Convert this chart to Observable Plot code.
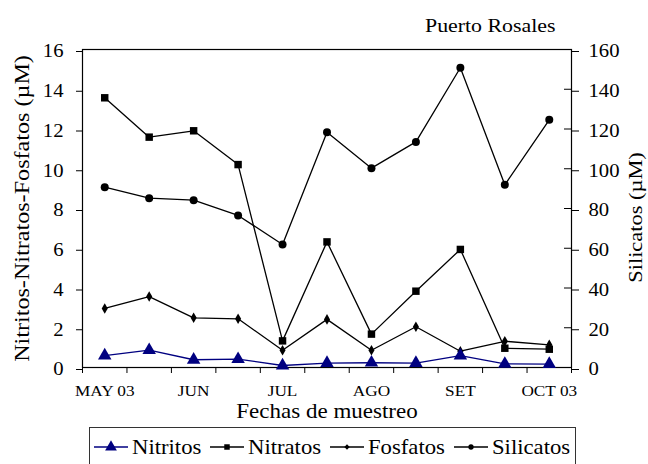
<!DOCTYPE html>
<html><head><meta charset="utf-8">
<script src="https://cdn.jsdelivr.net/npm/d3@7"></script>
<script src="https://cdn.jsdelivr.net/npm/@observablehq/plot@0.6"></script>
<style>
body{margin:0;background:#fff;}
#wrap{position:relative;width:648px;height:464px;overflow:hidden;font-family:"Liberation Serif","DejaVu Serif",serif;background:#fff;}
#title{position:absolute;left:425px;top:16px;font-size:19px;line-height:1;color:#000;transform:scaleX(1.15);transform-origin:left center;white-space:nowrap;}
#chart{position:absolute;left:0;top:0;}
#legend{position:absolute;left:89px;top:427px;width:487px;height:40px;border:1px solid #333;box-sizing:border-box;display:flex;align-items:center;justify-content:space-between;padding:0 6px 0 4px;font-size:21px;color:#000;}
.item{display:flex;align-items:center;}
.item svg{margin-right:4px;}
.item span{display:inline-block;transform:scaleX(1.08);transform-origin:left center;margin-right:5px;}
svg text{font-family:"Liberation Serif","DejaVu Serif",serif;}
</style>
</head><body>
<div id="wrap">
  <div id="chart"></div>
  <div id="title">Puerto Rosales</div>
  <div id="legend"></div>
</div>
<script>
const months = ["MAY 03","","JUN","","JUL","","AGO","","SET","","OCT 03"];
const nitritos = [0.60,0.87,0.39,0.42,0.10,0.22,0.24,0.22,0.60,0.18,0.17];
const nitratos = [13.57,11.59,11.91,10.21,1.34,6.32,1.68,3.84,5.94,0.97,0.92];
const fosfatos = [2.97,3.57,2.50,2.45,0.87,2.42,0.87,2.05,0.82,1.32,1.14];
const silicatos = [90.7,85.2,84.2,76.5,61.9,118.4,100.3,113.5,150.8,91.9,124.6];
const leftTicks = [0,2,4,6,8,10,12,14,16];
const rightTicks = [0,20,40,60,80,100,120,140,160];
const seriesNames = ["Nitritos","Nitratos","Fosfatos","Silicatos"];

const rows = months.map((m, i) => ({i, m, nitritos: nitritos[i], nitratos: nitratos[i], fosfatos: fosfatos[i], silicatos: silicatos[i]}));
const bounds = d3.range(months.length + 1).map(i => i - 0.5);
const NAVY = "#000080";
const FONT = "Liberation Serif, DejaVu Serif, serif";
const LW = 1.3;

const chart = Plot.plot({
  width: 648, height: 425,
  marginTop: 49, marginBottom: 58, marginLeft: 82, marginRight: 77,
  style: {fontFamily: FONT, fontSize: "18px", color: "black", background: "white", overflow: "visible"},
  x: {type: "linear", domain: [-0.5, months.length - 0.5]},
  y: {domain: [0, 16]},
  marks: [
    Plot.frame({stroke: "black", strokeWidth: 1.2}),
    Plot.axisY(leftTicks, {anchor: "left", tickSize: 6, tickPadding: 13, label: null, fontSize: 18, dy: 2}),
    Plot.axisY(leftTicks, {anchor: "right", tickSize: 7, tickPadding: 10, label: null, fontSize: 18, dy: 2,
      tickFormat: d => String(rightTicks[leftTicks.indexOf(d)])}),
    Plot.tickY(leftTicks, {y: d => d, insetLeft: 482, stroke: "black"}),
    Plot.axisX(bounds, {anchor: "bottom", tickSize: 6, tickFormat: () => "", label: null}),
    Plot.axisX(d3.range(months.length), {anchor: "bottom", tickSize: 0, tickPadding: 18, label: null, fontSize: 15,
      tickFormat: i => months[i]}),
    Plot.text(["Nitritos-Nitratos-Fosfatos (µM)"], {frameAnchor: "left", textAnchor: "middle", dx: -60, rotate: -90, fontSize: 21}),
    Plot.text(["Silicatos (µM)"], {frameAnchor: "right", textAnchor: "middle", dx: 64, dy: 9, rotate: -90, fontSize: 19.5}),
    Plot.text(["Fechas de muestreo"], {frameAnchor: "bottom", dy: 50, fontSize: 20}),
    Plot.line(rows, {x: "i", y: d => d.silicatos / 10, stroke: "black", strokeWidth: LW}),
    Plot.dot(rows, {x: "i", y: d => d.silicatos / 10, r: 4, fill: "black", strokeWidth: 0}),
    Plot.line(rows, {x: "i", y: "fosfatos", stroke: "black", strokeWidth: LW}),
    Plot.dot(rows, {x: "i", y: "fosfatos", symbol: "diamond", r: 3.2, fill: "black", strokeWidth: 0}),
    Plot.line(rows, {x: "i", y: "nitratos", stroke: "black", strokeWidth: LW}),
    Plot.dot(rows, {x: "i", y: "nitratos", symbol: "square", r: 4.2, fill: "black", strokeWidth: 0}),
    Plot.line(rows, {x: "i", y: "nitritos", stroke: NAVY, strokeWidth: LW}),
    Plot.dot(rows, {x: "i", y: "nitritos", symbol: "triangle", r: 5, fill: NAVY, strokeWidth: 0})
  ]
});
document.getElementById("chart").appendChild(chart);

// widen glyphs along the text direction, keeping each text's anchor in place
d3.select(chart).selectAll("text").each(function() {
  const t = this.getAttribute("transform");
  if (t) {
    this.setAttribute("transform", t + " scale(1.15,1)");
  } else {
    const x = +(this.getAttribute("x") || 0), y = +(this.getAttribute("y") || 0);
    this.setAttribute("transform", `translate(${x},${y}) scale(1.15,1) translate(${-x},${-y})`);
  }
});

// legend
const legendSymbols = [
  {name: seriesNames[0], color: NAVY, sym: d3.symbolTriangle, size: 60},
  {name: seriesNames[1], color: "black", sym: d3.symbolSquare, size: 30},
  {name: seriesNames[2], color: "black", sym: d3.symbolDiamond2, size: 18},
  {name: seriesNames[3], color: "black", sym: d3.symbolCircle, size: 22}
];
const legend = d3.select("#legend");
legendSymbols.forEach(s => {
  const it = legend.append("div").attr("class", "item");
  const svg = it.append("svg").attr("width", 34).attr("height", 20);
  svg.append("line").attr("x1", 0).attr("x2", 34).attr("y1", 10).attr("y2", 10).attr("stroke", s.color).attr("stroke-width", LW);
  svg.append("path").attr("d", d3.symbol(s.sym, s.size)()).attr("transform", "translate(17,10)").attr("fill", s.color);
  it.append("span").text(s.name);
});
</script>
</body></html>
